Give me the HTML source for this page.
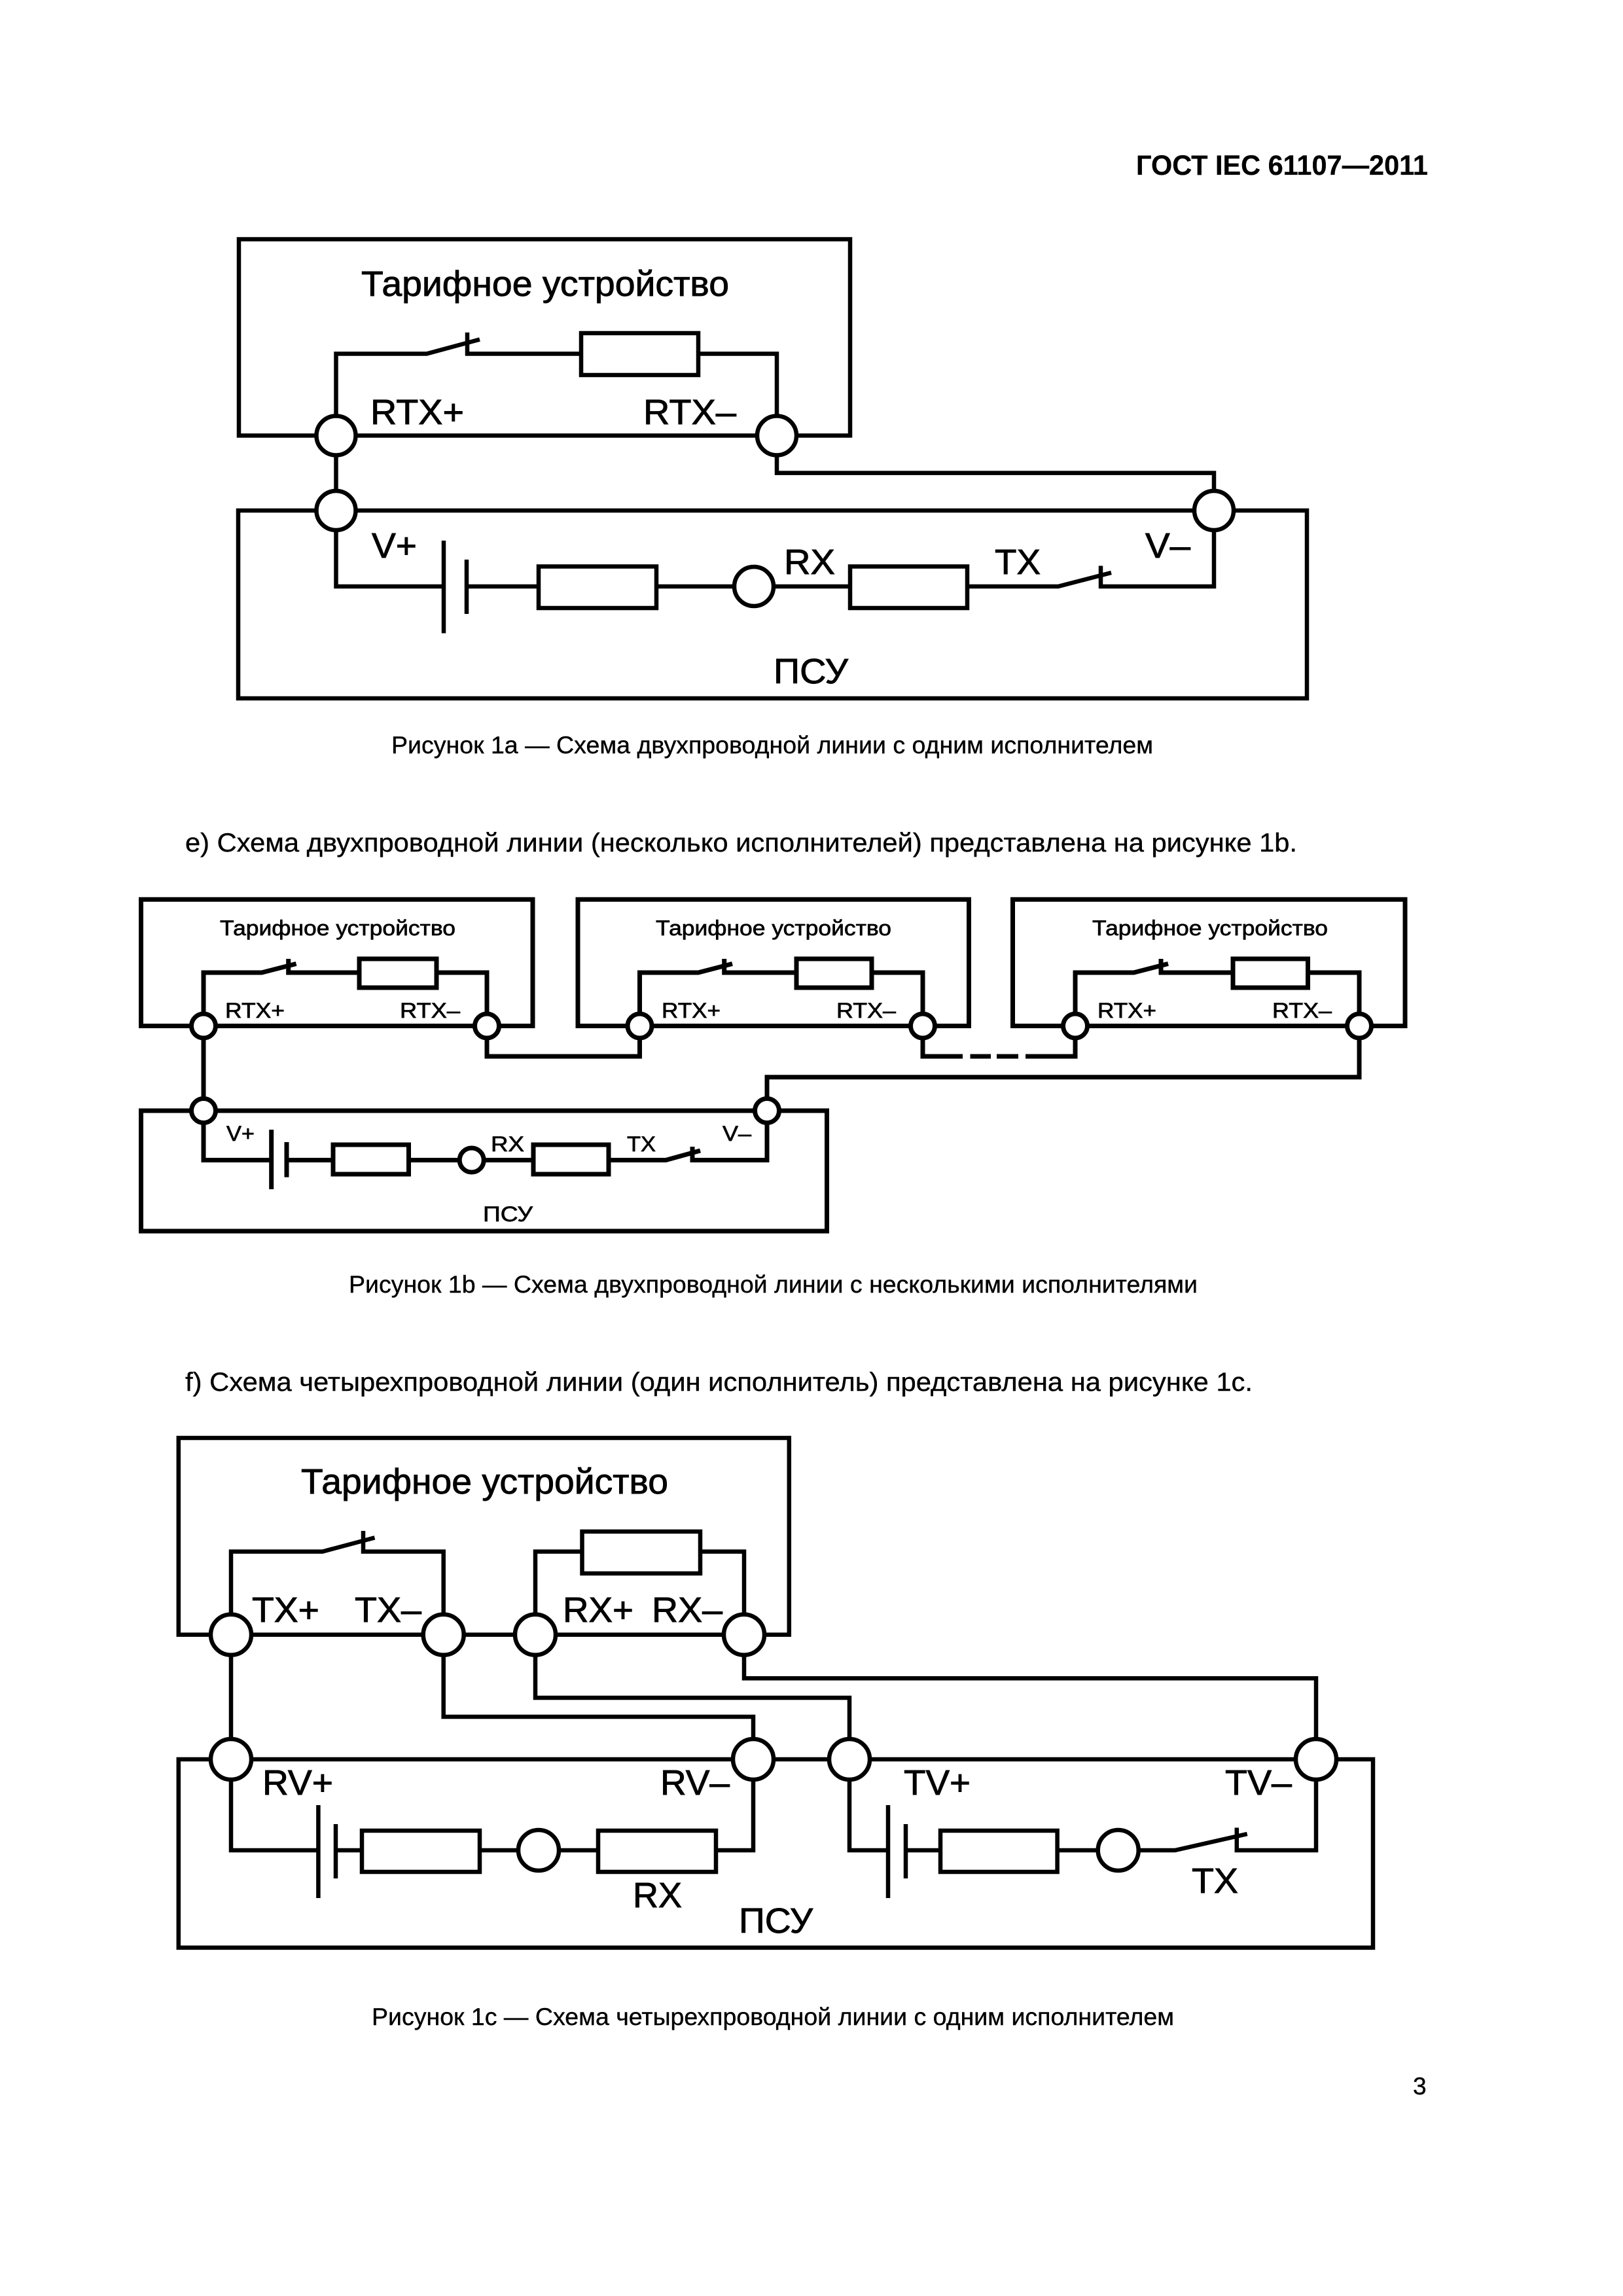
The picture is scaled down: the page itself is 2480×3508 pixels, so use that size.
<!DOCTYPE html>
<html lang="ru"><head><meta charset="utf-8"><title>ГОСТ IEC 61107—2011</title>
<style>html,body{margin:0;padding:0;background:#fff}svg{display:block}
text{font-family:"Liberation Sans",sans-serif;fill:#000;stroke:#000}
.w{fill:none;stroke:#000;stroke-width:6.5;stroke-linejoin:miter;stroke-linecap:butt}
.r{fill:#fff;stroke:#000;stroke-width:6.5}
.c{fill:#fff;stroke:#000;stroke-width:6.5}
.b .w,.b .r,.b .c{stroke-width:7}
.t{font-size:54px;stroke-width:.9}.s{font-size:32px;stroke-width:.7}.cap{font-size:37px;stroke-width:.4}.p{font-size:40px;stroke-width:.4}</style></head><body>
<svg xmlns="http://www.w3.org/2000/svg" width="2480" height="3508" viewBox="0 0 2480 3508">
<rect width="2480" height="3508" fill="#fff"/>
<text x="1736" y="267" font-size="43" font-weight="700" stroke-width=".3" textLength="446" lengthAdjust="spacingAndGlyphs">ГОСТ IEC 61107—2011</text>

<!-- Figure 1a -->
<path class="w" d="M513.5 665.5H365V365.5H1299V665.5H1187"/>
<path class="w" d="M513.5 665.5H1187"/>
<path class="w" d="M513.5 665.5V540.5H652L733 518.6M714 508V540.5H888M1067 540.5H1187V665.5"/>
<rect class="r" x="888" y="509" width="179" height="64"/>
<path class="w" d="M513.5 665.5V780M1187 665.5V722.6H1855V780"/>
<path class="w" d="M513.5 780H364V1067H1997V780H513.5"/>
<path class="w" d="M513.5 780V896H678M678 826V967.5M713 855V938M713 896H823M1003 896H1299M1478 896H1617L1698 875M1682 864.5V896H1855V780"/>
<rect class="r" x="823" y="865.5" width="180" height="63.5"/>
<rect class="r" x="1299" y="865.5" width="179" height="63.5"/>
<circle class="c" cx="513.5" cy="665.5" r="30"/><circle class="c" cx="1187" cy="665.5" r="30"/>
<circle class="c" cx="513.5" cy="780" r="30"/><circle class="c" cx="1855" cy="780" r="30"/>
<circle class="c" cx="1152" cy="896" r="30"/>
<text class="t" x="552" y="452" textLength="562" lengthAdjust="spacingAndGlyphs">Тарифное устройство</text>
<text class="t" x="566" y="648" textLength="143" lengthAdjust="spacingAndGlyphs">RTX+</text>
<text class="t" x="983" y="648" textLength="142" lengthAdjust="spacingAndGlyphs">RTX–</text>
<text class="t" x="568" y="852" textLength="69" lengthAdjust="spacingAndGlyphs">V+</text>
<text class="t" x="1750" y="852" textLength="69" lengthAdjust="spacingAndGlyphs">V–</text>
<text class="t" x="1198" y="877" textLength="78" lengthAdjust="spacingAndGlyphs">RX</text>
<text class="t" x="1520" y="877" textLength="70" lengthAdjust="spacingAndGlyphs">TX</text>
<text class="t" x="1182" y="1044" textLength="114" lengthAdjust="spacingAndGlyphs">ПСУ</text>
<text class="cap" x="598" y="1151" textLength="1164" lengthAdjust="spacingAndGlyphs">Рисунок 1a — Схема двухпроводной линии с одним исполнителем</text>
<text class="p" x="283" y="1301" textLength="1699" lengthAdjust="spacingAndGlyphs">е) Схема двухпроводной линии (несколько исполнителей) представлена на рисунке 1b.</text>

<!-- Figure 1b -->
<g class="b">
<path class="w" d="M215.5 1374.3H814V1567.5H215.5Z"/>
<path class="w" d="M883 1374.3H1480.5V1567.5H883Z"/>
<path class="w" d="M1547.5 1374.3H2147V1567.5H1547.5Z"/>
<path class="w" d="M311 1567.5V1486H400L452.6 1472.5M440.7 1465V1486H549M667 1486H744V1567.5"/>
<rect class="r" x="549" y="1465" width="118" height="44"/>
<path class="w" d="M977.5 1567.5V1486H1067L1119 1472.5M1106.7 1465V1486H1217.5M1332 1486H1410V1567.5"/>
<rect class="r" x="1217" y="1465" width="115" height="44"/>
<path class="w" d="M1643 1567.5V1486H1732.5L1785 1472.5M1774 1465V1486H1884M1998.5 1486H2077V1567.5"/>
<rect class="r" x="1884" y="1465" width="114.5" height="44"/>
<path class="w" d="M311 1567.5V1697M744 1567.5V1614H977.5V1567.5"/>
<path class="w" d="M1410 1567.5V1614H1471M1482.5 1614H1514M1523 1614H1556M1567 1614H1643V1567.5"/>
<path class="w" d="M2077 1567.5V1645.7H1172V1697"/>
<path class="w" d="M215.5 1697H1263.5V1881H215.5Z"/>
<path class="w" d="M311 1697V1772.5H414.7M414.7 1726V1817M438 1745V1798.6M438 1772.5H509M624.5 1772.5H815M930 1772.5H1017.5L1070 1758M1058 1752V1772.5H1172V1697"/>
<rect class="r" x="509" y="1749" width="115.5" height="45"/>
<rect class="r" x="815" y="1749" width="115" height="45"/>
<circle class="c" cx="311" cy="1567.5" r="18.5"/><circle class="c" cx="744" cy="1567.5" r="18.5"/>
<circle class="c" cx="977.5" cy="1567.5" r="18.5"/><circle class="c" cx="1410" cy="1567.5" r="18.5"/>
<circle class="c" cx="1643" cy="1567.5" r="18.5"/><circle class="c" cx="2077" cy="1567.5" r="18.5"/>
<circle class="c" cx="311" cy="1697" r="18.5"/><circle class="c" cx="1172" cy="1697" r="18.5"/>
<circle class="c" cx="720.7" cy="1772.5" r="18.5"/>
</g>
<text class="s" x="336" y="1429" textLength="360" lengthAdjust="spacingAndGlyphs">Тарифное устройство</text>
<text class="s" x="1002" y="1429" textLength="360" lengthAdjust="spacingAndGlyphs">Тарифное устройство</text>
<text class="s" x="1669" y="1429" textLength="360" lengthAdjust="spacingAndGlyphs">Тарифное устройство</text>
<text class="s" x="344" y="1555" textLength="91" lengthAdjust="spacingAndGlyphs">RTX+</text>
<text class="s" x="611" y="1555" textLength="92" lengthAdjust="spacingAndGlyphs">RTX–</text>
<text class="s" x="1011" y="1555" textLength="90" lengthAdjust="spacingAndGlyphs">RTX+</text>
<text class="s" x="1278" y="1555" textLength="91" lengthAdjust="spacingAndGlyphs">RTX–</text>
<text class="s" x="1677" y="1555" textLength="90" lengthAdjust="spacingAndGlyphs">RTX+</text>
<text class="s" x="1944" y="1555" textLength="91" lengthAdjust="spacingAndGlyphs">RTX–</text>
<text class="s" x="346" y="1743" textLength="43" lengthAdjust="spacingAndGlyphs">V+</text>
<text class="s" x="1104" y="1743" textLength="44" lengthAdjust="spacingAndGlyphs">V–</text>
<text class="s" x="750" y="1759" textLength="51" lengthAdjust="spacingAndGlyphs">RX</text>
<text class="s" x="958" y="1759" textLength="44" lengthAdjust="spacingAndGlyphs">TX</text>
<text class="s" x="738" y="1866" textLength="76" lengthAdjust="spacingAndGlyphs">ПСУ</text>
<text class="cap" x="533" y="1975" textLength="1297" lengthAdjust="spacingAndGlyphs">Рисунок 1b — Схема двухпроводной линии с несколькими исполнителями</text>
<text class="p" x="283" y="2125" textLength="1631" lengthAdjust="spacingAndGlyphs">f) Схема четырехпроводной линии (один исполнитель) представлена на рисунке 1c.</text>

<!-- Figure 1c -->
<path class="w" d="M272.8 2197H1205.8V2497.6H272.8Z"/>
<path class="w" d="M353 2497.6V2370.6H492.8L572.5 2349.4M555 2339V2370.6H677.7V2497.6"/>
<path class="w" d="M818 2497.6V2370.6H889.5M1070 2370.6H1137V2497.6"/>
<rect class="r" x="889.5" y="2340" width="180.5" height="64"/>
<path class="w" d="M353 2497.6V2688M677.7 2497.6V2623H1151V2688M818 2497.6V2594H1298V2688M1137 2497.6V2564.3H2011V2688"/>
<path class="w" d="M272.8 2688H2098V2975.7H272.8Z"/>
<path class="w" d="M353 2688V2827H486.4M486.4 2758V2900M513 2787V2870M513 2827H553M733 2827H914M1094 2827H1151V2688"/>
<rect class="r" x="553" y="2797" width="180" height="63"/>
<rect class="r" x="914" y="2797" width="180" height="63"/>
<path class="w" d="M1298 2688V2827H1357M1357 2758V2900M1384 2787V2870M1384 2827H1437M1615.6 2827H1795.4L1905.7 2802M1889.8 2792.5V2827H2011V2688"/>
<rect class="r" x="1437" y="2797" width="178.6" height="63"/>
<circle class="c" cx="353" cy="2497.6" r="31"/><circle class="c" cx="677.7" cy="2497.6" r="31"/>
<circle class="c" cx="818" cy="2497.6" r="31"/><circle class="c" cx="1137" cy="2497.6" r="31"/>
<circle class="c" cx="353" cy="2688" r="31"/><circle class="c" cx="1151" cy="2688" r="31"/>
<circle class="c" cx="1298" cy="2688" r="31"/><circle class="c" cx="2011" cy="2688" r="31"/>
<circle class="c" cx="823" cy="2827" r="31"/><circle class="c" cx="1708.7" cy="2827" r="31"/>
<text class="t" x="460" y="2282" textLength="561" lengthAdjust="spacingAndGlyphs">Тарифное устройство</text>
<text class="t" x="385" y="2478" textLength="103" lengthAdjust="spacingAndGlyphs">TX+</text>
<text class="t" x="542" y="2478" textLength="102" lengthAdjust="spacingAndGlyphs">TX–</text>
<text class="t" x="860" y="2478" textLength="108" lengthAdjust="spacingAndGlyphs">RX+</text>
<text class="t" x="996" y="2478" textLength="108" lengthAdjust="spacingAndGlyphs">RX–</text>
<text class="t" x="401" y="2742" textLength="108" lengthAdjust="spacingAndGlyphs">RV+</text>
<text class="t" x="1009" y="2742" textLength="106" lengthAdjust="spacingAndGlyphs">RV–</text>
<text class="t" x="1381" y="2742" textLength="102" lengthAdjust="spacingAndGlyphs">TV+</text>
<text class="t" x="1872" y="2742" textLength="102" lengthAdjust="spacingAndGlyphs">TV–</text>
<text class="t" x="967" y="2914" textLength="75" lengthAdjust="spacingAndGlyphs">RX</text>
<text class="t" x="1821" y="2892" textLength="71" lengthAdjust="spacingAndGlyphs">TX</text>
<text class="t" x="1129" y="2953" textLength="113" lengthAdjust="spacingAndGlyphs">ПСУ</text>
<text class="cap" x="568" y="3094" textLength="1226" lengthAdjust="spacingAndGlyphs">Рисунок 1c — Схема четырехпроводной линии с одним исполнителем</text>
<text x="2159" y="3200" font-size="37" stroke-width=".4">3</text>
</svg>
</body></html>
